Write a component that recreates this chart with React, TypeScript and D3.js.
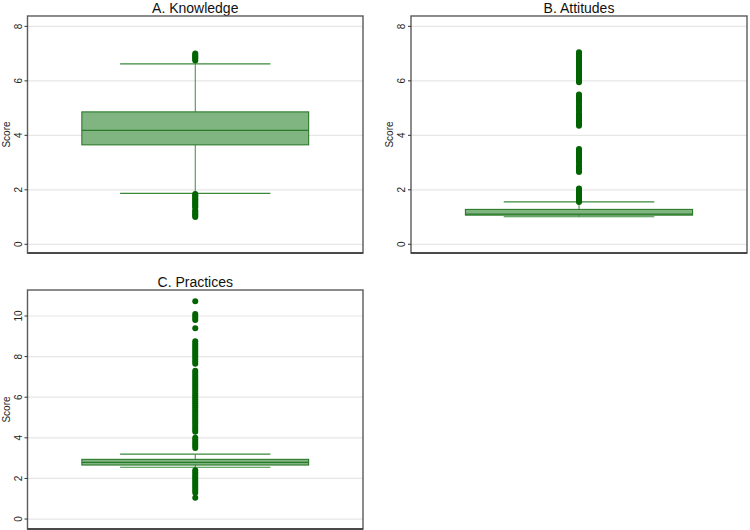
import React from "react";
import * as d3 from "d3";

// ---------- Data ----------
const panelTitles = ["A. Knowledge", "B. Attitudes", "C. Practices"];
const yTicksAB = [0, 2, 4, 6, 8];
const yTicksC = [0, 2, 4, 6, 8, 10];

// box stats: [lowerWhisker, q1, median, q3, upperWhisker]
const statsA = [1.87, 3.65, 4.18, 4.86, 6.62];
const statsB = [1.01, 1.07, 1.11, 1.28, 1.56];
const statsC = [2.55, 2.66, 2.79, 2.94, 3.2];

const outliersA = [
  6.75, 6.8, 6.85, 6.9, 6.95, 7.0,
  1.85, 1.8, 1.75, 1.7, 1.65, 1.6, 1.55, 1.5, 1.45, 1.4, 1.35, 1.25, 1.2, 1.15, 1.1, 1.05, 1.0,
];
const outliersB = [
  1.55, 1.6, 1.65, 1.7, 1.75, 1.8, 1.85, 1.9, 1.95, 2.0, 2.05,
  2.65, 2.7, 2.75, 2.8, 2.85, 2.9,
  3.0, 3.05, 3.1, 3.15, 3.2, 3.25, 3.3, 3.35, 3.4, 3.45, 3.5,
  4.35, 4.4, 4.45, 4.5, 4.55, 4.6, 4.65, 4.7, 4.75, 4.8, 4.9, 4.95, 5.0, 5.05, 5.1, 5.2, 5.25, 5.3, 5.35, 5.4, 5.45, 5.5,
  5.95, 6.0, 6.05, 6.1, 6.15, 6.2, 6.25, 6.3, 6.35, 6.4, 6.45, 6.5, 6.55, 6.6, 6.65, 6.7, 6.75, 6.8, 6.85, 6.9, 6.95, 7.0, 7.05,
];
const outliersC = [
  10.72, 10.1, 10.0, 9.9, 9.8, 9.4,
  8.75, 8.65, 8.55, 8.45, 8.35, 8.25, 8.15, 8.05, 7.95, 7.85, 7.75, 7.65,
  7.3, 7.2, 7.1, 7.0, 6.9, 6.8, 6.7, 6.6, 6.5, 6.4, 6.3, 6.2, 6.1, 6.0, 5.9, 5.8, 5.7, 5.6, 5.5, 5.4, 5.3, 5.2, 5.1, 5.0, 4.9, 4.8, 4.7, 4.6, 4.5, 4.4, 4.3,
  4.0, 3.9, 3.8, 3.7, 3.6, 3.5,
  2.4, 2.3, 2.2, 2.1, 2.0, 1.9, 1.8, 1.7, 1.6, 1.5, 1.4, 1.3,
  1.05,
];

// ---------- Styles ----------
const FONT = "'Liberation Sans', Arial, Helvetica, sans-serif";
const BOX_FILL = "#80b480";
const BOX_STROKE = "#2b7a2b";
const WHISKER = "#3a8a3a";
const OUTLIER = "#006400";
const GRID = "#e6e6e6";
const FRAME = "#5a5a5a";

type PanelProps = {
  title: string;
  stats: number[];
  outliers: number[];
  ticks: number[];
  domain: [number, number];
  x0: number;
  x1: number;
  y0: number;
  y1: number;
};

function Panel({ title, stats, outliers, ticks, domain, x0, x1, y0, y1 }: PanelProps) {
  const y = d3.scaleLinear().domain(domain).range([y1, y0]);
  const x = d3.scaleLinear().domain([0, 1]).range([x0, x1]);
  const [lw, q1, med, q3, uw] = stats;
  const cx = x(0.5);
  const boxL = x(0.162);
  const boxR = x(0.838);
  const capL = x(0.276);
  const capR = x(0.724);
  return (
    <g>
      <text
        x={(x0 + x1) / 2}
        y={y0 - 3.5}
        textAnchor="middle"
        fontFamily={FONT}
        fontSize={14}
        fill="#111"
      >
        {title}
      </text>
      {ticks.map((t) => (
        <line key={"g" + t} x1={x0} x2={x1} y1={y(t)} y2={y(t)} stroke={GRID} strokeWidth={1.2} />
      ))}
      {/* whiskers */}
      <line x1={cx} x2={cx} y1={y(q3)} y2={y(uw)} stroke={WHISKER} strokeWidth={1} />
      <line x1={cx} x2={cx} y1={y(q1)} y2={y(lw)} stroke={WHISKER} strokeWidth={1} />
      <line x1={capL} x2={capR} y1={y(uw)} y2={y(uw)} stroke={WHISKER} strokeWidth={1.2} />
      <line x1={capL} x2={capR} y1={y(lw)} y2={y(lw)} stroke={WHISKER} strokeWidth={1.2} />
      {/* box */}
      <rect
        x={boxL}
        y={y(q3)}
        width={boxR - boxL}
        height={y(q1) - y(q3)}
        fill={BOX_FILL}
        stroke={BOX_STROKE}
        strokeWidth={1.1}
      />
      <line x1={boxL} x2={boxR} y1={y(med)} y2={y(med)} stroke={BOX_STROKE} strokeWidth={1.3} />
      {/* outliers */}
      {outliers.map((v, i) => (
        <circle key={"o" + i} cx={cx} cy={y(v)} r={3} fill={OUTLIER} />
      ))}
      {/* frame */}
      <rect x={x0} y={y0} width={x1 - x0} height={y1 - y0} fill="none" stroke={FRAME} strokeWidth={1.4} />
      <line x1={x0} x2={x1} y1={y1} y2={y1} stroke="#333" strokeWidth={1.4} />
      {/* y axis ticks */}
      {ticks.map((t) => (
        <g key={"t" + t}>
          <line x1={x0 - 3} x2={x0} y1={y(t)} y2={y(t)} stroke="#333" strokeWidth={1} />
          <text
            transform={`translate(${x0 - 6},${y(t)}) rotate(-90)`}
            textAnchor="middle"
            fontFamily={FONT}
            fontSize={10}
            fill="#222"
          >
            {t}
          </text>
        </g>
      ))}
      <text
        transform={`translate(${x0 - 18},${(y0 + y1) / 2}) rotate(-90)`}
        textAnchor="middle"
        fontFamily={FONT}
        fontSize={10}
        fill="#222"
      >
        Score
      </text>
    </g>
  );
}

export default function App() {
  return (
    <svg
      width={750}
      height={530}
      style={{ position: "absolute", left: 0, top: 0, background: "#fff" }}
    >
      <Panel
        title={panelTitles[0]}
        stats={statsA}
        outliers={outliersA}
        ticks={yTicksAB}
        domain={[-0.32, 8.38]}
        x0={27.5}
        x1={363}
        y0={16}
        y1={253}
      />
      <Panel
        title={panelTitles[1]}
        stats={statsB}
        outliers={outliersB}
        ticks={yTicksAB}
        domain={[-0.32, 8.38]}
        x0={411}
        x1={747}
        y0={16}
        y1={253}
      />
      <Panel
        title={panelTitles[2]}
        stats={statsC}
        outliers={outliersC}
        ticks={yTicksC}
        domain={[-0.49, 11.28]}
        x0={27.5}
        x1={363}
        y0={290}
        y1={529}
      />
    </svg>
  );
}
